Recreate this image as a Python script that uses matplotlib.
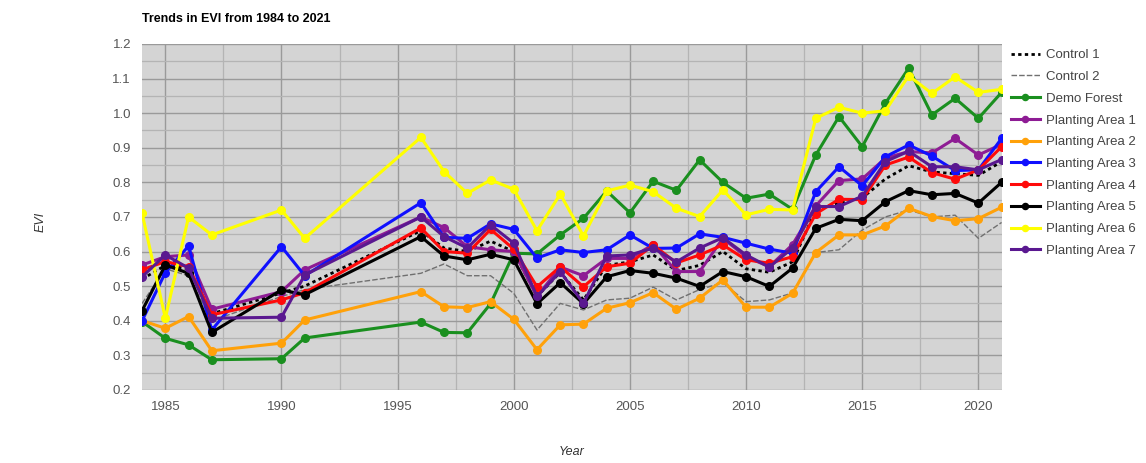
import matplotlib
matplotlib.use('Agg')
import matplotlib.pyplot as plt
import matplotlib.ticker as mticker

plt.rcParams['font.family'] = ['Liberation Sans', 'DejaVu Sans']

years = [1984, 1985, 1986, 1987, 1990, 1991, 1996, 1997, 1998, 1999, 2000,
         2001, 2002, 2003, 2004, 2005, 2006, 2007, 2008, 2009, 2010, 2011,
         2012, 2013, 2014, 2015, 2016, 2017, 2018, 2019, 2020, 2021]

control_1 = [0.52, 0.56, 0.55, 0.42, 0.48, 0.50, 0.66, 0.61, 0.60, 0.63, 0.60,
             0.47, 0.54, 0.46, 0.56, 0.57, 0.59, 0.545, 0.56, 0.60, 0.55, 0.54,
             0.57, 0.72, 0.74, 0.755, 0.81, 0.848, 0.83, 0.825, 0.82, 0.86]
control_2 = [0.45, 0.55, 0.53, 0.40, 0.47, 0.49, 0.537, 0.564, 0.53, 0.53, 0.479,
             0.373, 0.45, 0.431, 0.46, 0.465, 0.497, 0.46, 0.49, 0.51, 0.455, 0.46,
             0.48, 0.597, 0.605, 0.662, 0.70, 0.72, 0.70, 0.705, 0.638, 0.684]
demo_forest = [0.397, 0.349, 0.33, 0.287, 0.29, 0.35, 0.396, 0.366, 0.365, 0.449, 0.595,
               0.593, 0.648, 0.696, 0.775, 0.712, 0.803, 0.777, 0.865, 0.80, 0.754, 0.766,
               0.722, 0.879, 0.99, 0.903, 1.029, 1.13, 0.995, 1.043, 0.985, 1.06]
area_1 = [0.561, 0.585, 0.59, 0.433, 0.484, 0.547, 0.70, 0.669, 0.614, 0.605, 0.60,
          0.47, 0.555, 0.53, 0.58, 0.58, 0.62, 0.542, 0.542, 0.638, 0.585, 0.556,
          0.62, 0.732, 0.805, 0.81, 0.87, 0.889, 0.885, 0.927, 0.879, 0.91]
area_2 = [0.40, 0.378, 0.412, 0.313, 0.335, 0.402, 0.484, 0.44, 0.438, 0.455, 0.404,
          0.316, 0.388, 0.39, 0.436, 0.452, 0.481, 0.433, 0.465, 0.518, 0.439, 0.439,
          0.479, 0.597, 0.648, 0.648, 0.674, 0.725, 0.701, 0.689, 0.695, 0.728]
area_3 = [0.40, 0.539, 0.616, 0.373, 0.614, 0.53, 0.741, 0.641, 0.638, 0.68, 0.664,
          0.581, 0.605, 0.597, 0.605, 0.648, 0.609, 0.61, 0.651, 0.641, 0.624, 0.607,
          0.595, 0.773, 0.845, 0.79, 0.874, 0.908, 0.876, 0.834, 0.836, 0.927]
area_4 = [0.547, 0.571, 0.556, 0.417, 0.46, 0.481, 0.668, 0.60, 0.595, 0.664, 0.607,
          0.498, 0.556, 0.498, 0.556, 0.566, 0.619, 0.567, 0.59, 0.619, 0.576, 0.566,
          0.585, 0.709, 0.751, 0.75, 0.85, 0.873, 0.828, 0.809, 0.836, 0.903]
area_5 = [0.429, 0.561, 0.537, 0.366, 0.489, 0.475, 0.643, 0.587, 0.576, 0.592, 0.576,
          0.449, 0.51, 0.449, 0.527, 0.545, 0.537, 0.523, 0.499, 0.542, 0.527, 0.499,
          0.552, 0.667, 0.693, 0.689, 0.744, 0.776, 0.764, 0.768, 0.74, 0.80]
area_6 = [0.71, 0.407, 0.70, 0.648, 0.72, 0.638, 0.93, 0.831, 0.768, 0.807, 0.78,
          0.66, 0.766, 0.645, 0.775, 0.792, 0.773, 0.725, 0.701, 0.778, 0.706, 0.722,
          0.72, 0.985, 1.017, 1.0, 1.007, 1.108, 1.057, 1.105, 1.06, 1.069]
area_7 = [0.527, 0.59, 0.552, 0.407, 0.41, 0.532, 0.70, 0.643, 0.61, 0.677, 0.624,
          0.47, 0.542, 0.45, 0.587, 0.59, 0.61, 0.57, 0.61, 0.64, 0.59, 0.555,
          0.61, 0.73, 0.73, 0.76, 0.86, 0.89, 0.845, 0.845, 0.836, 0.866]

series = [
    ('Demo Forest', demo_forest, '#1a8f1f'),
    ('Planting Area 1', area_1, '#8e1c94'),
    ('Planting Area 2', area_2, '#ffa10a'),
    ('Planting Area 3', area_3, '#1010ff'),
    ('Planting Area 4', area_4, '#ff0a0a'),
    ('Planting Area 5', area_5, '#000000'),
    ('Planting Area 6', area_6, '#ffff00'),
    ('Planting Area 7', area_7, '#5a1890'),
]

fig = plt.figure(figsize=(11.46, 4.63), dpi=100)
ax = fig.add_axes([0.124, 0.158, 0.75, 0.747])
ax.set_facecolor('#d4d4d4')

ax.plot(years, control_1, color='black', linestyle=(0, (1.2, 1.2)), linewidth=2,
        label='Control 1', zorder=3)
ax.plot(years, control_2, color='#707070', linestyle=(0, (4, 1.5)), linewidth=1,
        label='Control 2', zorder=3)
for name, vals, col in series:
    ax.plot(years, vals, color=col, linewidth=2.2, marker='o', markersize=5.5,
            label=name, zorder=4)

ax.set_xlim(1984, 2021)
ax.set_ylim(0.2, 1.2)
ax.xaxis.set_major_locator(mticker.MultipleLocator(5))
ax.xaxis.set_minor_locator(mticker.MultipleLocator(2.5))
ax.yaxis.set_major_locator(mticker.MultipleLocator(0.1))
ax.yaxis.set_minor_locator(mticker.MultipleLocator(0.05))
ax.yaxis.set_major_formatter(mticker.FormatStrFormatter('%.1f'))
ax.grid(which='major', color='#9a9a9a', linewidth=1)
ax.grid(which='minor', color='#b4b4b4', linewidth=0.9)
ax.set_axisbelow(True)
ax.tick_params(which='both', length=0, colors='#555555', labelsize=9.5, pad=8)
for s in ax.spines.values():
    s.set_visible(False)

ax.set_title('Trends in EVI from 1984 to 2021', loc='left', fontsize=9,
             fontweight='bold', pad=16)
ax.set_xlabel('Year', fontstyle='italic', fontsize=9, color='#333333', labelpad=24)
fig.text(0.035, 0.52, 'EVI', rotation=90, fontstyle='italic', fontsize=9,
         color='#333333', va='center', ha='center')

ax.legend(loc='upper left', bbox_to_anchor=(1.0, 1.012), frameon=False,
          fontsize=9.5, handlelength=2.2, handletextpad=0.5, borderaxespad=0.3,
          labelspacing=0.72, markerscale=0.8, labelcolor='#444444')

plt.savefig('out.png', dpi=100)
